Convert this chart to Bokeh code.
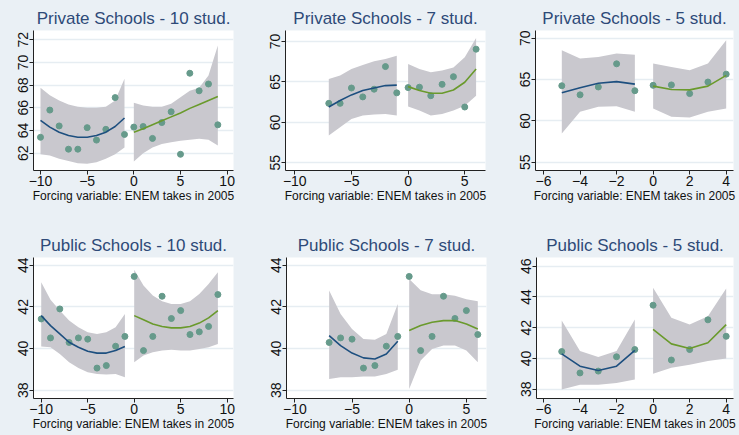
from bokeh.plotting import figure
from bokeh.layouts import column, row
from bokeh.models import FixedTicker
from bokeh.embed import file_html
from bokeh.resources import INLINE

# ---------------- data ----------------
xtitle = "Forcing variable: ENEM takes in 2005"

# bin means (forcing variable -10 .. 9)
bins = list(range(-10, 10))
private_means = [63.4, 65.8, 64.4, 62.35, 62.35, 64.25, 63.15, 64.1, 66.9, 63.65,
                 64.3, 64.35, 63.3, 64.7, 65.65, 61.9, 69.05, 67.5, 68.1, 64.5]
public_means = [41.42, 40.51, 41.9, 40.29, 40.51, 40.45, 39.06, 39.18, 40.11, 40.58,
                43.46, 39.9, 40.58, 42.51, 41.44, 41.82, 40.67, 40.8, 41.06, 42.59]

# Private - 10 students
priv10_fit_l = [64.9, 64.3, 63.85, 63.55, 63.4, 63.4, 63.55, 63.85, 64.35, 65.1]
priv10_hi_l = [67.76, 67.1, 66.65, 66.3, 66.1, 66.0, 66.0, 66.1, 66.65, 68.56]
priv10_lo_l = [61.9, 61.8, 61.5, 61.3, 61.1, 61.06, 61.2, 61.5, 61.9, 62.5]
priv10_fit_r = [63.85, 64.15, 64.5, 64.85, 65.2, 65.55, 65.95, 66.3, 66.65, 67.0]
priv10_hi_r = [66.44, 66.2, 66.1, 66.1, 66.35, 66.94, 67.5, 67.76, 68.85, 71.5]
priv10_lo_r = [61.26, 62.0, 62.5, 62.8, 62.97, 63.1, 63.18, 63.26, 63.18, 62.68]

# Private - 7 students
priv7_fit_l = [61.9, 62.7, 63.4, 63.93, 64.26, 64.55, 64.6]
priv7_hi_l = [65.37, 65.8, 66.6, 67.1, 67.55, 67.84, 68.25]
priv7_lo_l = [58.37, 59.4, 60.43, 60.84, 60.96, 61.04, 60.84]
priv7_fit_r = [64.42, 63.93, 63.6, 63.6, 64.0, 64.96, 66.6]
priv7_hi_r = [67.22, 66.6, 66.2, 66.4, 66.8, 68.05, 70.44]
priv7_lo_r = [61.95, 61.46, 60.84, 61.04, 61.46, 62.07, 63.3]

# Private - 5 students
priv5_fit_l = [63.4, 64.0, 64.55, 64.75, 64.45]
priv5_hi_l = [68.55, 67.54, 67.74, 68.15, 68.0]
priv5_lo_l = [58.47, 61.1, 61.7, 61.77, 61.1]
priv5_fit_r = [64.2, 63.8, 63.75, 64.2, 65.5]
priv5_hi_r = [66.94, 66.53, 66.13, 66.94, 69.76]
priv5_lo_r = [61.5, 60.5, 60.4, 61.1, 61.5]

# Public - 10 students
pub10_fit_l = [41.58, 41.1, 40.7, 40.3, 40.06, 39.87, 39.78, 39.78, 39.9, 40.1]
pub10_hi_l = [43.18, 42.34, 41.82, 41.34, 41.02, 40.78, 40.7, 40.78, 41.02, 41.66]
pub10_lo_l = [40.1, 40.06, 39.74, 39.34, 39.07, 38.86, 38.78, 38.75, 38.78, 38.62]
pub10_fit_r = [41.58, 41.38, 41.18, 41.06, 40.99, 40.99, 41.06, 41.22, 41.47, 41.82]
pub10_hi_r = [43.78, 43.02, 42.54, 42.27, 42.14, 42.14, 42.27, 42.62, 43.1, 43.66]
pub10_lo_r = [39.34, 39.66, 39.82, 39.9, 39.94, 39.9, 39.9, 39.98, 40.06, 40.22]

# Public - 7 students
pub7_fit_l = [40.62, 40.14, 39.78, 39.55, 39.5, 39.74, 40.35]
pub7_hi_l = [42.78, 41.66, 40.94, 40.46, 40.42, 40.7, 42.14]
pub7_lo_l = [38.54, 38.62, 38.62, 38.66, 38.66, 38.78, 38.98]
pub7_fit_r = [40.86, 41.1, 41.26, 41.34, 41.34, 41.18, 40.94]
pub7_hi_r = [43.34, 42.8, 42.61, 42.61, 42.53, 42.37, 42.27]
pub7_lo_r = [38.06, 39.42, 39.98, 40.14, 40.14, 39.9, 39.34]

# Public - 5 students
pub5_fit_l = [40.3, 39.5, 39.22, 39.5, 40.52]
pub5_hi_l = [42.46, 40.48, 40.09, 40.48, 42.54]
pub5_lo_l = [37.99, 38.3, 38.3, 38.4, 38.64]
pub5_fit_r = [41.89, 40.95, 40.65, 41.02, 42.2]
pub5_hi_r = [44.6, 42.65, 42.2, 42.75, 44.55]
pub5_lo_r = [39.0, 39.39, 39.6, 39.83, 40.0]

titles = ["Private Schools - 10 stud.", "Private Schools - 7 stud.", "Private Schools - 5 stud.",
          "Public Schools - 10 stud.", "Public Schools - 7 stud.", "Public Schools - 5 stud."]

# ---------------- styles ----------------
BG = "#EAF0F5"
BAND = "#C9C8CE"
DOT = "#669A8B"
NAVY = "#1D4F7F"
GREEN = "#6A9A2C"
GRID = "#E6EDF2"
FONT = "Liberation Sans"


def panel(title, n, means, fits, xr, yr, xticks, yticks, w, h, bl, br, bt, bb):
    p = figure(width=w, height=h, x_range=xr, y_range=yr, output_backend="svg",
               toolbar_location=None, min_border_left=bl, min_border_right=br,
               min_border_top=bt, min_border_bottom=bb)
    p.border_fill_color = BG
    p.background_fill_color = "white"
    p.outline_line_color = None
    p.title.text = title
    p.title.align = "center"
    p.title.text_font = FONT
    p.title.text_font_size = "17px"
    p.title.text_font_style = "normal"
    p.title.text_color = "#2E4A78"
    p.title.standoff = 5

    fit_l, hi_l, lo_l, fit_r, hi_r, lo_r = fits
    xl = list(range(-n, 0))
    xrr = list(range(0, n))
    p.varea(x=xl, y1=lo_l, y2=hi_l, fill_color=BAND)
    p.varea(x=xrr, y1=lo_r, y2=hi_r, fill_color=BAND)
    px = [b for b in bins if -n <= b < n]
    py = [m for b, m in zip(bins, means) if -n <= b < n]
    p.scatter(px, py, size=6, marker="circle", fill_color=DOT, line_color=DOT)
    p.line(xl, fit_l, line_color=NAVY, line_width=1.6)
    p.line(xrr, fit_r, line_color=GREEN, line_width=1.6)

    p.xgrid.visible = False
    p.ygrid.grid_line_color = GRID
    p.ygrid.grid_line_width = 1.5
    p.xaxis.ticker = FixedTicker(ticks=xticks)
    p.yaxis.ticker = FixedTicker(ticks=yticks)
    for ax in (p.xaxis, p.yaxis):
        ax.axis_line_color = "#222222"
        ax.major_tick_line_color = "#222222"
        ax.major_tick_out = 4
        ax.major_tick_in = 0
        ax.minor_tick_line_color = None
        ax.major_label_text_font = FONT
        ax.major_label_text_font_size = "14px"
        ax.major_label_text_color = "#111111"
        ax.major_label_standoff = 1
    p.yaxis.major_label_orientation = "vertical"
    p.xaxis.axis_label = xtitle
    p.xaxis.axis_label_text_font = FONT
    p.xaxis.axis_label_text_font_size = "12px"
    p.xaxis.axis_label_text_font_style = "normal"
    p.xaxis.axis_label_text_color = "#111111"
    p.xaxis.axis_label_standoff = 0
    return p


p1 = panel(titles[0], 10, private_means,
           (priv10_fit_l, priv10_hi_l, priv10_lo_l, priv10_fit_r, priv10_hi_r, priv10_lo_r),
           (-10.75, 10.68), (60.47, 72.82), [-10, -5, 0, 5, 10], [62, 64, 66, 68, 70, 72],
           245, 214, 33, 12, 30, 44)
p2 = panel(titles[1], 7, private_means,
           (priv7_fit_l, priv7_hi_l, priv7_lo_l, priv7_fit_r, priv7_hi_r, priv7_lo_r),
           (-10.82, 6.83), (54.05, 71.36), [-10, -5, 0, 5], [55, 60, 65, 70],
           245, 214, 40, 5, 30, 44)
p3 = panel(titles[2], 5, private_means,
           (priv5_fit_l, priv5_hi_l, priv5_lo_l, priv5_fit_r, priv5_hi_r, priv5_lo_r),
           (-6.44, 4.40), (54.0, 70.93), [-6, -4, -2, 0, 2, 4], [55, 60, 65, 70],
           249, 214, 45, 6, 30, 44)
p4 = panel(titles[3], 10, public_means,
           (pub10_fit_l, pub10_hi_l, pub10_lo_l, pub10_fit_r, pub10_hi_r, pub10_lo_r),
           (-10.83, 10.68), (37.6, 44.37), [-10, -5, 0, 5, 10], [38, 40, 42, 44],
           245, 221, 33, 12, 43, 37)
p5 = panel(titles[4], 7, public_means,
           (pub7_fit_l, pub7_hi_l, pub7_lo_l, pub7_fit_r, pub7_hi_r, pub7_lo_r),
           (-10.73, 6.76), (37.6, 44.37), [-10, -5, 0, 5], [38, 40, 42, 44],
           245, 221, 41, 4, 43, 37)
p6 = panel(titles[5], 5, public_means,
           (pub5_fit_l, pub5_hi_l, pub5_lo_l, pub5_fit_r, pub5_hi_r, pub5_lo_r),
           (-6.38, 4.40), (37.4, 46.56), [-6, -4, -2, 0, 2, 4], [38, 40, 42, 44, 46],
           249, 221, 46, 6, 43, 37)

r1 = row(p1, p2, p3, styles={"background-color": BG})
r2 = row(p4, p5, p6, styles={"background-color": BG})
layout = column(r1, r2, styles={"background-color": BG})
open("out.html", "w").write(file_html(layout, INLINE))
